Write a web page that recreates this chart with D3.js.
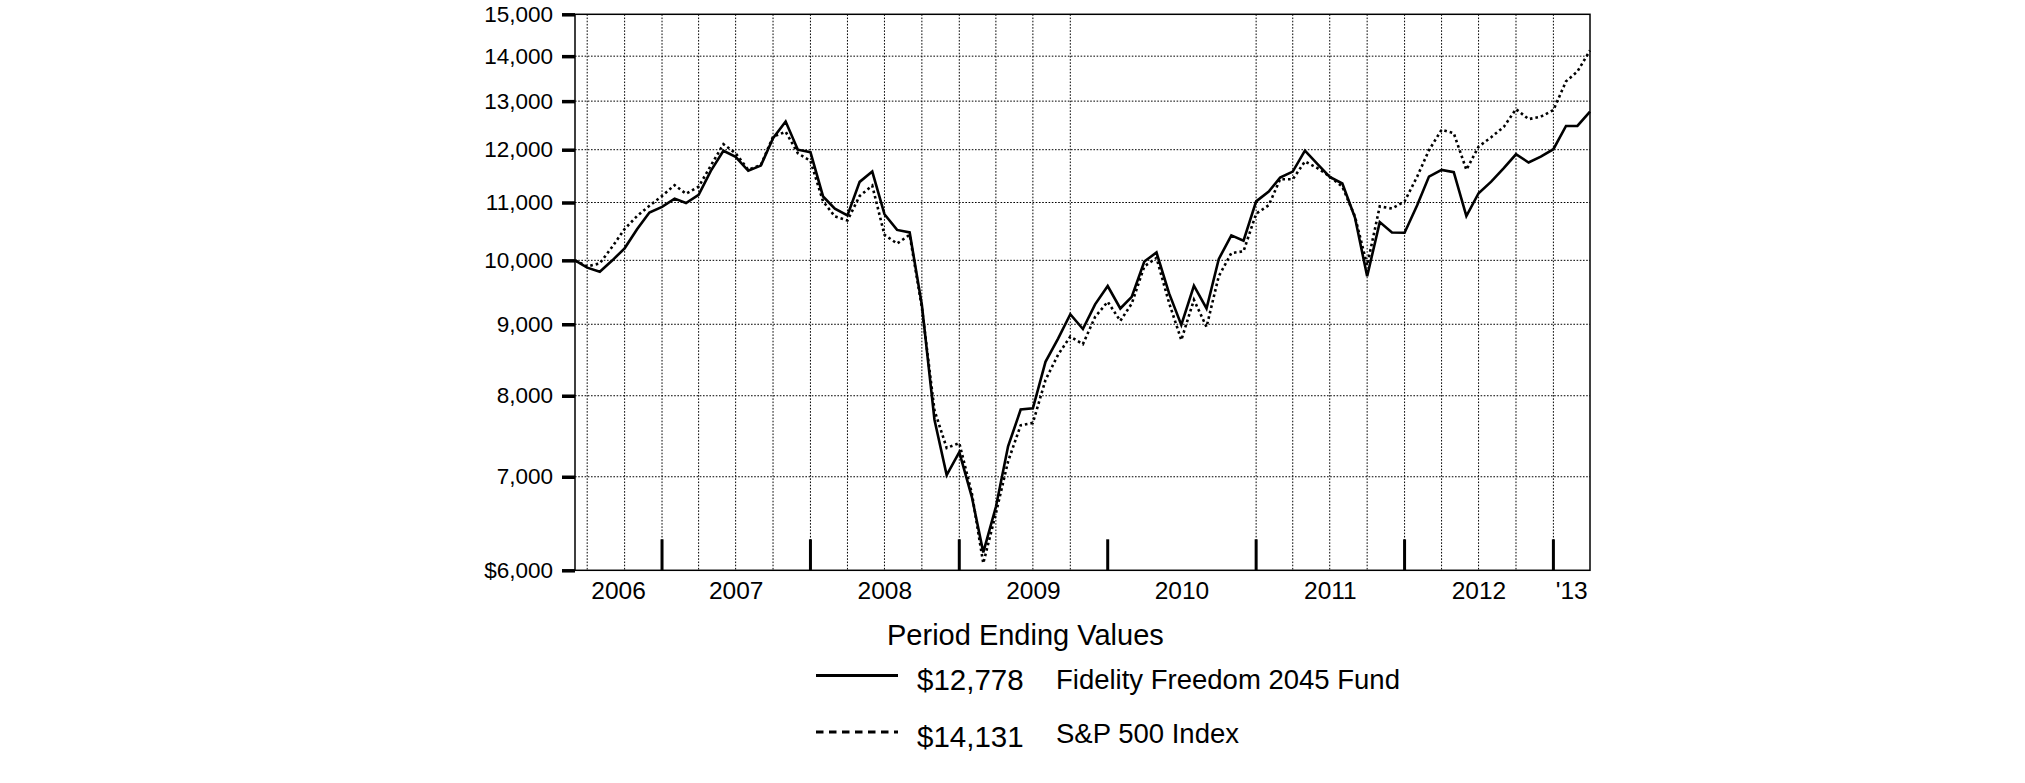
<!DOCTYPE html>
<html>
<head>
<meta charset="utf-8">
<script src="https://cdn.jsdelivr.net/npm/d3@7"></script>
<style>
  html, body { margin: 0; padding: 0; background: #fff; }
  svg { display: block; }
  text { font-family: "Liberation Sans", Arial, Helvetica, sans-serif; fill: #000; }
</style>
</head>
<body>
<script>
// ---------------- DATA ----------------
// Month-end values starting at fund inception (June 1, 2006) through March 31, 2013
const startMonth = "2006-06";
const fundValues = [
  10000, 9880, 9815, 10000, 10200, 10530, 10820, 10920, 11070, 10990,
  11140, 11590, 11980, 11860, 11590, 11690, 12230, 12570, 12000, 11950,
  11110, 10890, 10770, 11380, 11575, 10790, 10514, 10470, 9290, 7690,
  7020, 7290, 6770, 6180, 6660, 7360, 7820, 7835, 8460, 8790,
  9150, 8930, 9300, 9585, 9237, 9416, 9980, 10130, 9470, 8990,
  9590, 9237, 10020, 10420, 10330, 11020, 11200, 11460, 11575, 11981,
  11720, 11475, 11350, 10730, 9740, 10650, 10470, 10465, 10950, 11480,
  11607, 11565, 10755, 11170, 11385, 11640, 11910, 11750, 11862, 12010,
  12479, 12479, 12778
];
const sp500Values = [
  10000, 9900, 9950, 10230, 10530, 10760, 10940, 11120, 11320, 11160,
  11290, 11690, 12110, 11930, 11610, 11700, 12260, 12360, 11930, 11780,
  11020, 10750, 10680, 11120, 11310, 10430, 10280, 10430, 9250, 7810,
  7340, 7400, 6810, 6070, 6590, 7180, 7620, 7650, 8210, 8560,
  8820, 8710, 9110, 9340, 9050, 9310, 9900, 10040, 9320, 8770,
  9370, 8960, 9740, 10120, 10150, 10800, 10950, 11430, 11430, 11770,
  11640, 11480, 11290, 10750, 9920, 10930, 10890, 11020, 11480, 11990,
  12400, 12330, 11610, 12060, 12250, 12460, 12830, 12620, 12670, 12810,
  13430, 13650, 14131
];
const seriesNames = ["Fidelity Freedom 2045 Fund", "S&P 500 Index"];
const endingValues = ["$12,778", "$14,131"];
const yTickValues = [6000, 7000, 8000, 9000, 10000, 11000, 12000, 13000, 14000, 15000];
const yTickLabels = ["$6,000", "7,000", "8,000", "9,000", "10,000", "11,000", "12,000", "13,000", "14,000", "15,000"];
const yearLabels = ["2006", "2007", "2008", "2009", "2010", "2011", "2012", "'13"];
const legendTitle = "Period Ending Values";

// ---------------- LAYOUT ----------------
const W = 2025, H = 783;
const plot = { left: 575, right: 1590, top: 14.3, bottom: 570.3 };

const svg = d3.select("body").append("svg").attr("width", W).attr("height", H);
svg.append("rect").attr("width", W).attr("height", H).attr("fill", "#fff");

const parseMonth = d3.timeParse("%Y-%m");
const t0 = parseMonth(startMonth);
const dates = d3.range(fundValues.length).map(i => d3.timeMonth.offset(t0, i));
const tEnd = dates[dates.length - 1];

const x = d3.scaleTime().domain([t0, tEnd]).range([plot.left, plot.right]);
const y = d3.scaleLog().domain([6000, 15000]).range([plot.bottom, plot.top]);

// ---------------- GRID ----------------
const grid = svg.append("g");
grid.selectAll("line.h").data(yTickValues.filter(v => v > 6000 && v < 15000)).join("line")
  .attr("x1", plot.left).attr("x2", plot.right)
  .attr("y1", d => y(d)).attr("y2", d => y(d))
  .attr("stroke", "#000").attr("stroke-width", 1).attr("stroke-dasharray", "1.6,1.6");
// vertical quarterly dotted grid (the 2010 quarters are not drawn in the original)
const quarters = d3.timeMonth.every(3).range(d3.timeMonth.offset(t0, 1), tEnd)
  .filter(d => d.getFullYear() !== 2010);
grid.selectAll("line.v").data(quarters).join("line")
  .attr("x1", d => x(d)).attr("x2", d => x(d))
  .attr("y1", plot.top).attr("y2", plot.bottom)
  .attr("stroke", "#000").attr("stroke-width", 1).attr("stroke-dasharray", "1.6,1.6");

// ---------------- FRAME ----------------
svg.append("rect")
  .attr("x", plot.left).attr("y", plot.top)
  .attr("width", plot.right - plot.left).attr("height", plot.bottom - plot.top)
  .attr("fill", "none").attr("stroke", "#000").attr("stroke-width", 1.5);

// ---------------- Y AXIS ----------------
const yAxis = d3.axisLeft(y).tickValues(yTickValues)
  .tickFormat((d, i) => yTickLabels[i]).tickSize(13).tickPadding(9);
const gy = svg.append("g").attr("transform", `translate(${plot.left},0)`).call(yAxis);
gy.select(".domain").remove();
gy.selectAll(".tick line").attr("stroke", "#000").attr("stroke-width", 3.5);
gy.selectAll(".tick text").attr("font-size", 22.5)
  .attr("font-family", '"Liberation Sans", Arial, sans-serif').attr("fill", "#000");

// ---------------- X AXIS ----------------
const yearStarts = d3.timeYear.range(d3.timeYear.ceil(t0), tEnd);
svg.append("g").selectAll("line").data(yearStarts).join("line")
  .attr("x1", d => x(d)).attr("x2", d => x(d))
  .attr("y1", plot.bottom).attr("y2", plot.bottom - 31)
  .attr("stroke", "#000").attr("stroke-width", 3);

const bounds = [t0, ...yearStarts, tEnd];
svg.append("g").selectAll("text").data(yearLabels).join("text")
  .attr("x", (d, i) => (x(bounds[i]) + x(bounds[i + 1])) / 2)
  .attr("y", 598.5)
  .attr("text-anchor", "middle")
  .attr("font-size", 24.5)
  .text(d => d);

// ---------------- LINES ----------------
const line = d3.line().x((d, i) => x(dates[i])).y(d => y(d)).curve(d3.curveLinear);
svg.append("path").datum(sp500Values).attr("d", line)
  .attr("fill", "none").attr("stroke", "#000").attr("stroke-width", 2.6)
  .attr("stroke-dasharray", "2.6,3").attr("stroke-linejoin", "miter");
svg.append("path").datum(fundValues).attr("d", line)
  .attr("fill", "none").attr("stroke", "#000").attr("stroke-width", 2.6)
  .attr("stroke-linejoin", "miter");

// ---------------- LEGEND ----------------
const lg = svg.append("g");
lg.append("text").attr("x", 887).attr("y", 645).attr("font-size", 29).text(legendTitle);
const rows = [
  { name: seriesNames[0], value: endingValues[0], dash: null, ly: 675.5, vy: 689.5, ny: 688.5 },
  { name: seriesNames[1], value: endingValues[1], dash: "7.5,5.5", ly: 732, vy: 746.5, ny: 742.5 }
];
rows.forEach(r => {
  lg.append("line").attr("x1", 816).attr("x2", 898).attr("y1", r.ly).attr("y2", r.ly)
    .attr("stroke", "#000").attr("stroke-width", 3)
    .attr("stroke-dasharray", r.dash);
  lg.append("text").attr("x", 917).attr("y", r.vy).attr("font-size", 29.5).text(r.value);
  lg.append("text").attr("x", 1056).attr("y", r.ny).attr("font-size", 27.5).text(r.name);
});
</script>
</body>
</html>
